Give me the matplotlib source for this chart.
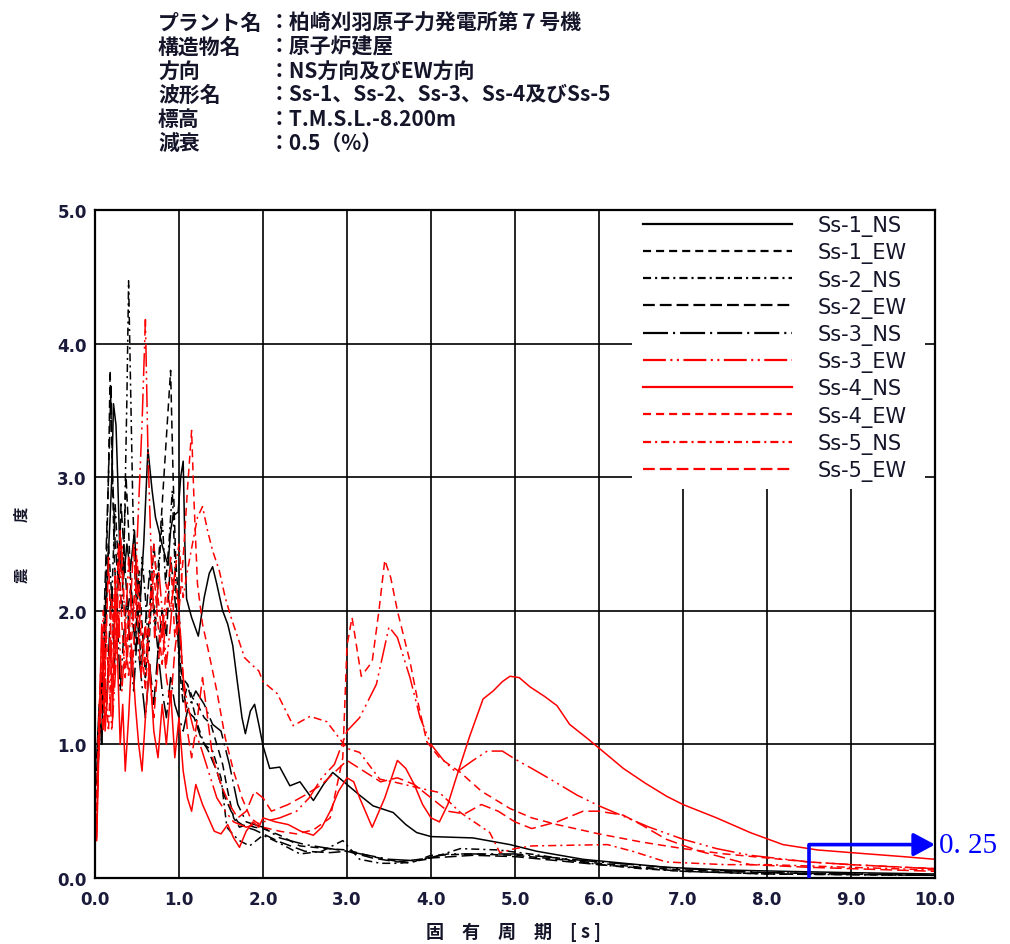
import matplotlib
matplotlib.use("Agg")
import matplotlib.pyplot as plt
from matplotlib.patches import Rectangle

plt.rcParams['font.family'] = ['Noto Sans CJK JP', 'DejaVu Sans']
plt.rcParams['lines.scale_dashes'] = False

# ---------------- data ----------------
series_names = ["Ss-1_NS", "Ss-1_EW", "Ss-2_NS", "Ss-2_EW", "Ss-3_NS",
                "Ss-3_EW", "Ss-4_NS", "Ss-4_EW", "Ss-5_NS", "Ss-5_EW"]

ss1_ns_t = [0.02, 0.05, 0.08, 0.1, 0.12, 0.15, 0.18, 0.2, 0.22, 0.25, 0.27, 0.3, 0.34, 0.38, 0.42, 0.47, 0.5,
            0.54, 0.58, 0.63, 0.68, 0.72, 0.76, 0.8, 0.84, 0.87, 0.9, 0.93, 0.99, 1.02, 1.05, 1.07, 1.09, 1.15,
            1.23, 1.3, 1.36, 1.4, 1.45, 1.52, 1.58, 1.64, 1.69, 1.75, 1.79, 1.85, 1.9, 1.95, 2.0, 2.08, 2.2,
            2.32, 2.44, 2.6, 2.72, 2.83, 3.0, 3.15, 3.31, 3.55, 3.7, 3.83, 4.0, 4.5, 4.94, 5.26, 5.81, 6.3,
            6.81, 7.5, 8.2, 9.0, 10.0]
ss1_ns_v = [0.9, 1.3, 1.0, 1.6, 1.94, 2.3, 2.7, 3.0, 3.55, 3.39, 3.0, 2.34, 2.24, 2.5, 2.3, 2.6, 2.2,
            2.09, 2.5, 3.21, 2.9, 2.7, 2.6, 2.49, 2.4, 2.34, 2.6, 2.71, 2.74, 3.0, 3.12, 2.5, 2.09, 1.95,
            1.81, 2.1, 2.28, 2.33, 2.2, 2.0, 1.9, 1.74, 1.49, 1.2, 1.08, 1.25, 1.30, 1.15, 0.99, 0.82, 0.83,
            0.69, 0.72, 0.58, 0.7, 0.79, 0.7, 0.62, 0.54, 0.49, 0.4, 0.34, 0.31, 0.3, 0.25, 0.2, 0.14, 0.11,
            0.08, 0.06, 0.05, 0.04, 0.03]

ss1_ew_t = [0.02, 0.05, 0.08, 0.1, 0.13, 0.16, 0.18, 0.2, 0.23, 0.26, 0.3, 0.33, 0.37, 0.4, 0.44, 0.48, 0.52,
            0.56, 0.6, 0.65, 0.7, 0.74, 0.78, 0.82, 0.86, 0.9, 0.93, 0.96, 1.0, 1.04, 1.1, 1.16, 1.22, 1.3,
            1.38, 1.45, 1.52, 1.58, 1.65, 1.72, 1.8, 1.9, 2.0, 2.2, 2.44, 2.76, 3.0, 3.3, 3.55, 3.75, 4.0,
            4.5, 5.0, 5.5, 6.0, 6.5, 7.0, 8.0, 9.0, 10.0]
ss1_ew_v = [0.5, 1.2, 1.6, 1.4, 2.2, 3.0, 3.8, 3.2, 2.4, 2.0, 2.6, 2.2, 3.0, 2.6, 2.0, 1.7, 2.3,
            1.9, 1.5, 2.0, 2.5, 2.2, 2.6, 3.0, 3.4, 3.8, 3.0, 2.4, 2.0, 1.5, 1.45, 1.35, 1.3, 1.2,
            1.15, 1.0, 0.85, 0.65, 0.45, 0.38, 0.4, 0.38, 0.37, 0.32, 0.24, 0.22, 0.21, 0.16, 0.13, 0.11, 0.17,
            0.18, 0.17, 0.14, 0.11, 0.08, 0.06, 0.04, 0.03, 0.02]

ss2_ns_t = [0.02, 0.05, 0.08, 0.1, 0.13, 0.16, 0.2, 0.24, 0.28, 0.32, 0.35, 0.38, 0.4, 0.42, 0.45, 0.48, 0.52,
            0.56, 0.6, 0.64, 0.68, 0.72, 0.76, 0.8, 0.84, 0.88, 0.92, 0.96, 1.0, 1.05, 1.1, 1.16, 1.22, 1.3,
            1.4, 1.5, 1.57, 1.65, 1.72, 1.84, 2.0, 2.2, 2.44, 2.7, 2.95, 3.15, 3.4, 3.63, 3.95, 4.35, 4.8,
            5.3, 6.0, 6.5, 7.0, 8.0, 10.0]
ss2_ns_v = [0.6, 1.0, 1.5, 1.3, 1.9, 2.5, 2.1, 2.8, 2.3, 2.0, 2.6, 3.6, 4.47, 3.8, 2.8, 2.2, 1.8,
            2.4, 2.1, 1.7, 2.2, 1.9, 2.3, 2.7, 2.2, 2.5, 2.9, 2.2, 1.6, 1.3, 1.45, 1.3, 1.15, 1.0,
            0.95, 0.75, 0.38, 0.32, 0.28, 0.24, 0.32, 0.26, 0.18, 0.2, 0.28, 0.14, 0.11, 0.11, 0.14, 0.22, 0.21,
            0.17, 0.1, 0.07, 0.05, 0.03, 0.02]

ss2_ew_t = [0.02, 0.05, 0.08, 0.11, 0.14, 0.17, 0.19, 0.21, 0.24, 0.28, 0.31, 0.35, 0.39, 0.43, 0.47, 0.51,
            0.55, 0.6, 0.65, 0.7, 0.75, 0.8, 0.85, 0.9, 0.95, 1.0, 1.05, 1.1, 1.18, 1.26, 1.35, 1.45, 1.55,
            1.62, 1.7, 1.8, 1.9, 2.0, 2.2, 2.5, 2.8, 3.0, 3.3, 3.6, 4.0, 4.5, 5.0, 5.5, 6.0, 7.0, 8.0, 9.0, 10.0]
ss2_ew_v = [0.7, 1.1, 1.4, 2.0, 2.6, 3.2, 3.7, 3.0, 2.5, 2.2, 2.8, 2.4, 2.0, 2.2, 1.8, 2.0,
            1.6, 1.9, 2.3, 2.0, 1.7, 2.0, 1.8, 2.4, 2.1, 1.7, 1.4, 1.25, 1.2, 1.05, 0.95, 0.8, 0.6,
            0.5, 0.42, 0.38, 0.36, 0.33, 0.27, 0.2, 0.19, 0.2, 0.15, 0.12, 0.15, 0.17, 0.16, 0.13, 0.1, 0.05, 0.03, 0.025, 0.02]

ss3_ns_t = [0.02, 0.05, 0.08, 0.11, 0.14, 0.17, 0.2, 0.23, 0.27, 0.3, 0.34, 0.38, 0.42, 0.46, 0.5, 0.55,
            0.6, 0.65, 0.7, 0.75, 0.8, 0.85, 0.9, 0.95, 1.0, 1.05, 1.1, 1.2, 1.3, 1.4, 1.5, 1.6, 1.7, 1.8,
            2.0, 2.2, 2.5, 2.8, 3.0, 3.5, 3.8, 4.2, 5.0, 6.0, 7.0, 8.0, 9.0, 10.0]
ss3_ns_v = [0.8, 1.2, 1.0, 1.5, 1.3, 1.8, 2.2, 1.6, 1.9, 1.4, 1.8, 2.1, 1.7, 1.4, 1.8, 1.5,
            1.2, 1.6, 1.3, 1.7, 1.4, 1.2, 1.5, 1.3, 1.2, 1.1, 1.25, 1.4, 1.3, 1.15, 1.1, 0.85, 0.55, 0.42,
            0.38, 0.3, 0.25, 0.22, 0.2, 0.14, 0.13, 0.18, 0.18, 0.12, 0.07, 0.04, 0.03, 0.02]

ss3_ew_t = [0.02, 0.04, 0.07, 0.1, 0.13, 0.16, 0.2, 0.24, 0.28, 0.32, 0.36, 0.4, 0.44, 0.48, 0.52, 0.56,
            0.6, 0.63, 0.67, 0.71, 0.76, 0.8, 0.85, 0.9, 0.95, 1.0, 1.05, 1.1, 1.18, 1.25, 1.35, 1.45, 1.55,
            1.65, 1.8, 2.0, 2.2, 2.4, 2.55, 2.7, 2.85, 3.0, 3.15, 3.35, 3.5, 3.6, 3.75, 3.87, 4.0, 4.15, 4.3,
            4.5, 4.67, 4.85, 5.0, 5.2, 5.42, 5.74, 6.0, 6.3, 6.6, 7.0, 7.4, 7.8, 8.5, 9.0, 9.62, 10.0]
ss3_ew_v = [0.3, 0.9, 1.3, 1.8, 1.2, 1.6, 1.1, 1.5, 2.0, 1.4, 1.8, 2.4, 1.9, 2.2, 2.8, 3.4,
            4.18, 3.2, 2.4, 1.8, 2.3, 2.0, 1.6, 1.9, 2.3, 2.0, 1.5, 1.3, 1.1, 1.0, 0.8, 0.6, 0.5,
            0.42, 0.38, 0.42, 0.45, 0.5, 0.6, 0.75, 0.85, 1.1, 1.2, 1.45, 1.88, 1.8, 1.5, 1.2, 1.0, 0.88, 0.79,
            0.88, 0.95, 0.95, 0.89, 0.82, 0.74, 0.62, 0.54, 0.46, 0.38, 0.29, 0.22, 0.17, 0.12, 0.1, 0.08, 0.07]

ss4_ns_t = [0.02, 0.04, 0.06, 0.08, 0.1, 0.12, 0.15, 0.18, 0.21, 0.24, 0.27, 0.3, 0.33, 0.36, 0.4, 0.44,
            0.48, 0.52, 0.56, 0.6, 0.65, 0.7, 0.75, 0.8, 0.85, 0.9, 0.95, 1.0, 1.05, 1.1, 1.15, 1.2, 1.28,
            1.35, 1.42, 1.5, 1.58, 1.65, 1.72, 1.8, 1.88, 1.95, 2.0, 2.15, 2.3, 2.45, 2.6, 2.7, 2.8, 2.9,
            3.0, 3.08, 3.15, 3.3, 3.45, 3.6, 3.7, 3.8, 3.9, 4.0, 4.1, 4.2, 4.3, 4.46, 4.62, 4.74, 4.85,
            4.94, 5.05, 5.18, 5.35, 5.5, 5.65, 5.87, 6.1, 6.29, 6.55, 6.81, 7.0, 7.4, 7.8, 8.19, 8.6, 9.0,
            9.62, 10.0]
ss4_ns_v = [0.28, 0.8, 1.4, 1.9, 1.5, 1.1, 1.4, 1.8, 1.2, 2.2, 1.6, 1.0, 1.3, 0.8, 1.2, 1.7,
            1.3, 1.0, 0.8, 1.2, 1.6, 1.1, 0.9, 1.3, 1.0, 1.4, 0.9, 1.2, 0.8, 0.6, 0.5, 0.7, 0.55,
            0.45, 0.35, 0.33, 0.4, 0.3, 0.23, 0.35, 0.42, 0.38, 0.45, 0.42, 0.4, 0.35, 0.32, 0.38, 0.5, 0.65,
            0.75, 0.72, 0.6, 0.38, 0.6, 0.88, 0.82, 0.7, 0.55, 0.45, 0.42, 0.55, 0.75, 1.06, 1.34, 1.40, 1.47,
            1.51, 1.5, 1.43, 1.36, 1.29, 1.15, 1.04, 0.92, 0.82, 0.71, 0.61, 0.55, 0.45, 0.34, 0.25, 0.21, 0.19,
            0.16, 0.14]

ss4_ew_t = [0.02, 0.04, 0.07, 0.1, 0.13, 0.16, 0.2, 0.24, 0.28, 0.32, 0.36, 0.4, 0.45, 0.5, 0.55, 0.6,
            0.65, 0.7, 0.75, 0.8, 0.85, 0.9, 0.95, 1.0, 1.05, 1.1, 1.15, 1.18, 1.22, 1.28, 1.35, 1.45, 1.55,
            1.65, 1.75, 1.85, 2.0, 2.2, 2.4, 2.6, 2.8, 2.95, 3.0, 3.06, 3.17, 3.3, 3.38, 3.45, 3.52, 3.6,
            3.75, 3.85, 3.95, 4.1, 4.35, 4.6, 4.94, 5.2, 5.5, 6.0, 6.5, 7.0, 7.5, 8.0, 8.5, 9.0, 10.0]
ss4_ew_v = [0.5, 1.0, 1.6, 1.3, 1.9, 1.5, 2.1, 1.7, 2.5, 1.9, 1.5, 2.0, 1.6, 2.2, 1.8, 1.4,
            1.9, 2.3, 1.9, 1.6, 2.0, 2.4, 1.8, 2.0, 2.4, 2.9, 3.35, 2.8, 2.2, 1.9, 1.7, 1.4, 1.05,
            0.8, 0.6, 0.45, 0.38, 0.35, 0.33, 0.36, 0.45, 0.9, 1.74, 1.95, 1.51, 1.62, 2.0, 2.38, 2.25, 2.0,
            1.62, 1.3, 1.02, 0.9, 0.79, 0.65, 0.52, 0.45, 0.4, 0.33, 0.27, 0.22, 0.18, 0.15, 0.12, 0.1, 0.07]

ss5_ns_t = [0.02, 0.04, 0.07, 0.1, 0.13, 0.16, 0.2, 0.24, 0.28, 0.32, 0.35, 0.4, 0.45, 0.5, 0.55, 0.6,
            0.65, 0.7, 0.75, 0.8, 0.85, 0.9, 0.95, 1.0, 1.05, 1.1, 1.16, 1.22, 1.28, 1.34, 1.4, 1.48, 1.55,
            1.62, 1.7, 1.78, 1.86, 1.95, 2.0, 2.17, 2.36, 2.56, 2.76, 3.0, 3.15, 3.39, 3.55, 3.95, 4.1, 4.35,
            4.7, 4.82, 5.0, 5.2, 6.1, 6.4, 6.8, 7.5, 8.0, 9.0, 10.0]
ss5_ns_v = [0.6, 1.1, 1.6, 2.0, 1.4, 1.1, 1.7, 2.3, 1.8, 2.5, 2.0, 1.5, 1.9, 2.4, 1.9, 1.6,
            2.0, 2.5, 2.1, 1.8, 2.2, 2.0, 2.3, 2.5, 2.1, 2.3, 2.5, 2.7, 2.78, 2.6, 2.45, 2.3, 2.1,
            1.95, 1.8, 1.65, 1.6, 1.55, 1.47, 1.38, 1.14, 1.21, 1.17, 0.97, 0.94, 0.74, 0.72, 0.66, 0.64, 0.49,
            0.34, 0.19, 0.22, 0.24, 0.25, 0.2, 0.12, 0.1, 0.1, 0.08, 0.06]

ss5_ew_t = [0.02, 0.04, 0.07, 0.1, 0.13, 0.16, 0.19, 0.22, 0.26, 0.3, 0.34, 0.38, 0.42, 0.46, 0.5, 0.55,
            0.6, 0.65, 0.7, 0.75, 0.8, 0.85, 0.9, 0.95, 1.0, 1.05, 1.1, 1.15, 1.22, 1.28, 1.34, 1.4, 1.5,
            1.6, 1.7, 1.8, 1.9, 2.0, 2.1, 2.3, 2.5, 2.7, 2.9, 3.0, 3.2, 3.4, 3.6, 3.8, 4.0, 4.2, 4.4, 4.6,
            4.8, 5.0, 5.2, 5.5, 5.81, 6.0, 6.29, 6.5, 6.8, 7.2, 7.8, 8.5, 9.0, 10.0]
ss5_ew_v = [0.4, 0.9, 1.3, 1.1, 1.7, 2.4, 1.8, 1.4, 1.9, 2.6, 2.1, 1.6, 2.0, 2.5, 2.0, 1.5,
            1.9, 1.5, 1.2, 1.6, 1.9, 1.5, 1.3, 1.7, 1.95, 1.5, 1.1, 0.9, 1.2, 1.5, 1.2, 0.9, 0.7,
            0.55, 0.45, 0.5, 0.65, 0.6, 0.5, 0.55, 0.62, 0.7, 0.82, 0.88, 0.8, 0.72, 0.75, 0.7, 0.6, 0.5, 0.48, 0.55,
            0.5, 0.42, 0.37, 0.42, 0.5, 0.5, 0.47, 0.4, 0.29, 0.2, 0.1, 0.08, 0.07, 0.05]

header_labels = ["プラント名", "構造物名", "方向", "波形名", "標高", "減衰"]
header_values = ["柏崎刈羽原子力発電所第７号機", "原子炉建屋", "NS方向及びEW方向",
                 "Ss-1、Ss-2、Ss-3、Ss-4及びSs-5", "T.M.S.L.-8.200m", "0.5（%）"]

x_ticks = [0.0, 1.0, 2.0, 3.0, 4.0, 5.0, 6.0, 7.0, 8.0, 9.0, 10.0]
y_ticks = [0.0, 1.0, 2.0, 3.0, 4.0, 5.0]
x_label = "固　有　周　期　[ s ]"
y_label = "震　　　度"

marker_period = 8.5
marker_value = 0.25
marker_text = "0. 25"

# ---------------- styles ----------------
BLACK = "#000000"
RED = "#ff0000"
dash_short = (0, (5.8, 3.6))
dash_dot = (0, (5.8, 2.9, 1.5, 2.9))
dash_long = (0, (8.5, 3.6))
dash_long_dot = (0, (18, 3.6, 1.5, 3.6))
dash_long_dotdot = (0, (16.5, 3.2, 1.5, 3.2, 1.5, 3.2))

series = [
    (ss1_ns_t, ss1_ns_v, BLACK, "-"),
    (ss1_ew_t, ss1_ew_v, BLACK, dash_short),
    (ss2_ns_t, ss2_ns_v, BLACK, dash_dot),
    (ss2_ew_t, ss2_ew_v, BLACK, dash_long),
    (ss3_ns_t, ss3_ns_v, BLACK, dash_long_dot),
    (ss3_ew_t, ss3_ew_v, RED, dash_long_dotdot),
    (ss4_ns_t, ss4_ns_v, RED, "-"),
    (ss4_ew_t, ss4_ew_v, RED, dash_short),
    (ss5_ns_t, ss5_ns_v, RED, dash_dot),
    (ss5_ew_t, ss5_ew_v, RED, dash_long),
]

fig = plt.figure(figsize=(10.1, 9.45), dpi=100)
W, H = 1010, 945
ax_left, ax_right, ax_top, ax_bottom = 95, 935, 211, 879
ax = fig.add_axes([ax_left / W, 1 - ax_bottom / H, (ax_right - ax_left) / W, (ax_bottom - ax_top) / H])

for (t, v, c, ls), name in zip(series, series_names):
    ax.plot(t, v, color=c, linestyle=ls, linewidth=1.1, label=name, zorder=2)

ax.set_xlim(0, 10)
ax.set_ylim(0, 5)
ax.set_xticks(x_ticks)
ax.set_yticks(y_ticks)
tick_color = "#1a1a3a"
ax.set_xticklabels([f"{v:.1f}" for v in x_ticks], fontfamily="DejaVu Sans", fontweight="bold",
                   fontsize=12, color=tick_color)
ax.set_yticklabels([f"{v:.1f}" for v in y_ticks], fontfamily="DejaVu Sans", fontweight="bold",
                   fontsize=12, color=tick_color)
ax.tick_params(axis="both", length=0)
ax.tick_params(axis="x", pad=9)
ax.tick_params(axis="y", pad=6)
ax.grid(True, color="black", linewidth=1.2, zorder=0.5)
ax.set_axisbelow(True)
for s in ax.spines.values():
    s.set_linewidth(1.6)
    s.set_zorder(2.6)

# white legend panel
ax.add_patch(Rectangle(((632 - ax_left) / 840, (879 - 490) / 668), (925 - 632) / 840, 1 - (879 - 490) / 668,
                       transform=ax.transAxes, facecolor="white", edgecolor="none", zorder=2.2))
leg = ax.legend(loc="upper left", bbox_to_anchor=((643 - ax_left) / 840, (879 - 216) / 668), frameon=False,
                borderpad=0, borderaxespad=0, handlelength=7.15, handletextpad=1.25, labelspacing=0.3,
                prop=dict(family="DejaVu Sans", size=15), labelcolor="#15152a")
leg.set_zorder(3)
for line in leg.get_lines():
    line.set_linewidth(1.6)

# blue marker
ax.plot([marker_period, marker_period], [0, marker_value], color="#0000ff", linewidth=2.6,
        clip_on=False, zorder=4, solid_capstyle="butt")
ax.annotate("", xy=(10.0, marker_value), xytext=(marker_period, marker_value),
            arrowprops=dict(arrowstyle="-|>,head_length=1.3,head_width=0.7", color="#0000ff", lw=2.6,
                            shrinkA=0, shrinkB=0),
            annotation_clip=False, zorder=4)
ax.annotate(marker_text, xy=(10.0, marker_value), xytext=(3, 0), textcoords="offset points",
            ha="left", va="center", color="#0000ff", fontsize=21, fontfamily="Liberation Serif",
            annotation_clip=False)

# axis labels
fig.text(514 / W, 1 - 932 / H, x_label, ha="center", va="center", fontsize=13, fontweight="bold",
         color="#15152a")
fig.text(22 / W, 1 - 545 / H, y_label, ha="center", va="center", rotation=90, fontsize=11,
         fontweight="bold", color="#15152a")

# header
line_y = [23, 47, 71, 95, 119, 143]
for lab, val, yy in zip(header_labels, header_values, line_y):
    fig.text(158 / W, 1 - yy / H, lab, ha="left", va="center", fontsize=15, fontweight="bold", color="#15152a")
    fig.text(269 / W, 1 - yy / H, "：" + val, ha="left", va="center", fontsize=15, fontweight="bold",
             color="#15152a")

fig.savefig("out.png", dpi=100)
